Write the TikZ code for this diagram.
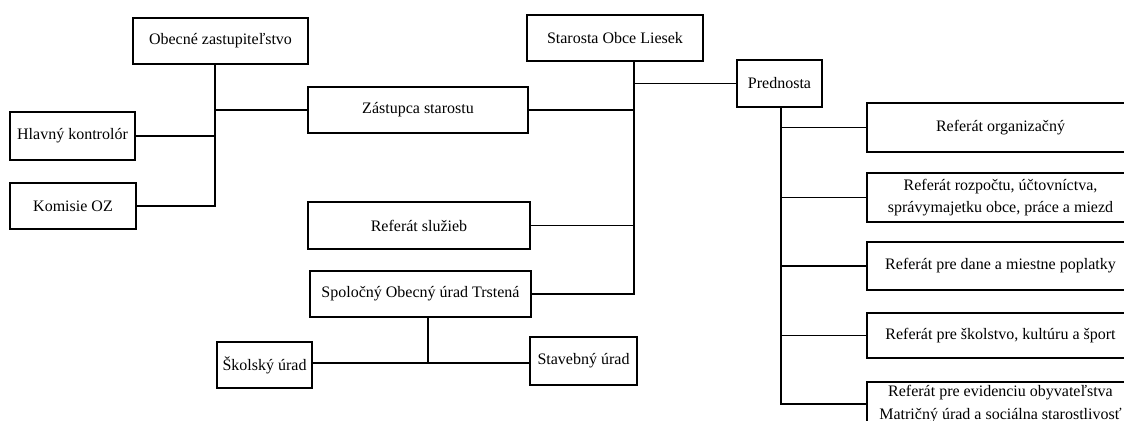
\documentclass[tikz,border=0pt]{standalone}
\usepackage{fontspec}
\setmainfont{Liberation Serif}
\begin{document}
\begin{tikzpicture}[x=0.75pt,y=-0.75pt,
  box/.style 2 args={draw,line width=1.2pt,inner sep=0pt,align=center,
    font=\fontsize{12}{17}\selectfont,
    minimum width=#1*0.75pt,minimum height=#2*0.75pt},
  link/.style={line width=1.2pt}]
\useasboundingbox (0,0) rectangle (1124,421);
% left part
\node[box={175}{46}] (oz) at (220.5,41) {Obecné zastupiteľstvo};
\node[box={125}{48}] (hk) at (72.5,136) {Hlavný kontrolór};
\node[box={126}{46}] (koz) at (73,206) {Komisie OZ};
\node[box={220}{46}] (zs) at (418,110) {Zástupca starostu};
\node[box={176}{46}] (sol) at (615,38) {Starosta Obce Liesek};
\node[box={85}{47}] (pred) at (779.5,83.5) {Prednosta};
\node[box={222}{47}] (rs) at (419,225.5) {Referát služieb};
\node[box={221}{46}] (sou) at (420.5,294) {Spoločný Obecný úrad Trstená};
\node[box={95}{46}] (sku) at (264.5,365) {Školský úrad};
\node[box={107}{48}] (stu) at (583.5,361) {Stavebný úrad};
% right column
\node[box={267}{49}] (ro) at (1000.5,127.5) {Referát organizačný};
\node[box={267}{49}] (rr) at (1000.5,197.5) {Referát rozpočtu, účtovníctva,\\správymajetku obce, práce a miezd};
\node[box={267}{48}] (rd) at (1000.5,266) {Referát pre dane a miestne poplatky};
\node[box={267}{45}] (rsk) at (1000.5,335.5) {Referát pre školstvo, kultúru a šport};
\node[box={267}{44}] (re) at (1000.5,404) {Referát pre evidenciu obyvateľstva\\Matričný úrad a sociálna starostlivosť};
% spines
\coordinate (a) at (215,204);
\coordinate (b) at (634,294);
\coordinate (c) at (428,363);
\coordinate (d) at (781,404);
% connectors: Obecné zastupiteľstvo
\draw[link] (oz.south -| a) -- (koz.east -| a) -- (koz.east);
\draw[link] (hk.east) -- (hk.east -| a);
\draw[link] (zs.west) -- (zs.west -| a);
% Starosta
\draw[link] (sol.south -| b) -- (sou.east -| b) -- (sou.east);
\draw[link] (pred.west) -- (pred.west -| b);
\draw[link] (zs.east) -- (zs.east -| b);
\draw[link] (rs.east) -- (rs.east -| b);
% Spoločný obecný úrad
\draw[link] (sou.south -| c) -- (c);
\draw[link] (sku.east |- c) -- (stu.west |- c);
% Prednosta
\draw[link] (pred.south -| d) -- (d) -- (d -| re.west);
\draw[link] (ro.west) -- (ro.west -| d);
\draw[link] (rr.west) -- (rr.west -| d);
\draw[link] (rd.west) -- (rd.west -| d);
\draw[link] (rsk.west) -- (rsk.west -| d);
\end{tikzpicture}
\end{document}
